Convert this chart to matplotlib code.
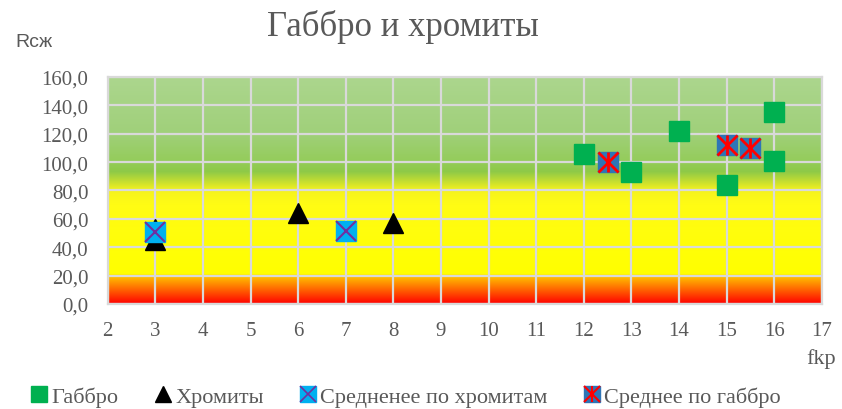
import numpy as np
import matplotlib
matplotlib.use("Agg")
import matplotlib.pyplot as plt
from matplotlib.lines import Line2D
from matplotlib.legend_handler import HandlerTuple

# data
gabbro_x = [12, 13, 14, 15, 16, 16]
gabbro_y = [106, 93, 122, 84, 135.5, 100.5]
chrom_x = [3, 3, 6, 8]
chrom_y = [53, 45, 64, 57]
chrom_mean_x = [3, 7]
chrom_mean_y = [50.5, 51.5]
gabbro_mean_x = [12.5, 15, 15.5]
gabbro_mean_y = [100, 112, 110]

xticks = list(range(2, 18))
yticks = list(range(0, 161, 20))

# background gradient stops (value, rgb)
stops_v = [0, 10, 19, 21, 70, 80, 85, 93, 100, 120, 160]
stops_c = [(255, 0, 0), (255, 100, 0), (255, 190, 0), (255, 255, 0), (255, 252, 20),
           (245, 242, 30), (205, 225, 45), (142, 201, 72), (148, 204, 90),
           (160, 208, 122), (172, 214, 142)]

grey = "#595959"
serif = "Liberation Serif"

fig = plt.figure(figsize=(8.42, 4.1), dpi=100)
ax = fig.add_axes([0.128, 0.256, 0.848, 0.554])

yy = np.linspace(0, 160, 400)
cols = np.stack([np.interp(yy, stops_v, [c[i] for c in stops_c]) for i in range(3)], axis=-1)
cols = cols[:, None, :] / 255.0
ax.imshow(cols, extent=[2, 17, 0, 160], origin="lower", aspect="auto", zorder=0)

ax.set_xlim(2, 17)
ax.set_ylim(0, 160)
ax.set_xticks(xticks)
ax.set_yticks(yticks)
ax.set_yticklabels([("%.1f" % v).replace(".", ",") for v in yticks])
ax.grid(True, color="#d9d9d9", linewidth=1.6, zorder=1)
ax.set_axisbelow(False)
for s in ax.spines.values():
    s.set_color("#d9d9d9")
    s.set_linewidth(1.6)
ax.tick_params(length=0, labelsize=15, colors=grey)
ax.tick_params(axis="y", pad=14)
ax.tick_params(axis="x", pad=12)
for lab in ax.get_xticklabels() + ax.get_yticklabels():
    lab.set_family(serif)

ms = 14
ax.plot(gabbro_x, gabbro_y, ls="none", marker="s", ms=ms, color="#00b050", zorder=3)
ax.plot(chrom_x, chrom_y, ls="none", marker="^", ms=ms, color="black", zorder=3)
ax.plot(chrom_mean_x, chrom_mean_y, ls="none", marker="s", ms=ms, color="#00b0f0", zorder=4)
ax.plot(chrom_mean_x, chrom_mean_y, ls="none", marker="x", ms=ms, mew=1.5, color="#7030a0", zorder=5)
ax.plot(gabbro_mean_x, gabbro_mean_y, ls="none", marker="s", ms=ms, color="#2e75b6", zorder=4)
ax.plot(gabbro_mean_x, gabbro_mean_y, ls="none", marker="x", ms=ms, mew=2, color="#ff0000", zorder=5)
ax.plot(gabbro_mean_x, gabbro_mean_y, ls="none", marker="|", ms=ms, mew=2, color="#ff0000", zorder=5)

fig.text(0.479, 0.934, "Габбро и хромиты", family=serif, fontsize=25, color=grey,
         ha="center", va="center")
fig.text(0.018, 0.897, "Rсж", family="Liberation Sans", fontsize=14, color=grey,
         ha="left", va="center")
fig.text(0.958, 0.124, "fkр", family=serif, fontsize=16, color=grey,
         ha="left", va="center")

lms = 11
h1 = Line2D([], [], ls="none", marker="s", ms=lms, color="#00b050")
h2 = Line2D([], [], ls="none", marker="^", ms=lms, color="black")
h3 = (Line2D([], [], ls="none", marker="s", ms=lms, color="#00b0f0"),
      Line2D([], [], ls="none", marker="x", ms=lms, mew=1.2, color="#7030a0"))
h4 = (Line2D([], [], ls="none", marker="s", ms=lms, color="#2e75b6"),
      Line2D([], [], ls="none", marker="x", ms=lms, mew=1.5, color="#ff0000"),
      Line2D([], [], ls="none", marker="|", ms=lms, mew=1.5, color="#ff0000"))
leg = fig.legend([h1, h2, h3, h4],
                 ["Габбро", "Хромиты", "Средненее по хромитам", "Среднее по габбро"],
                 handler_map={tuple: HandlerTuple(ndivide=1, pad=0)},
                 loc="center", bbox_to_anchor=(0.483, 0.03), ncol=4, frameon=False,
                 handlelength=0.6, handletextpad=0.25, columnspacing=1.7,
                 prop={"family": serif, "size": 16})
for t in leg.get_texts():
    t.set_color(grey)

fig.savefig("out.png", dpi=100)
